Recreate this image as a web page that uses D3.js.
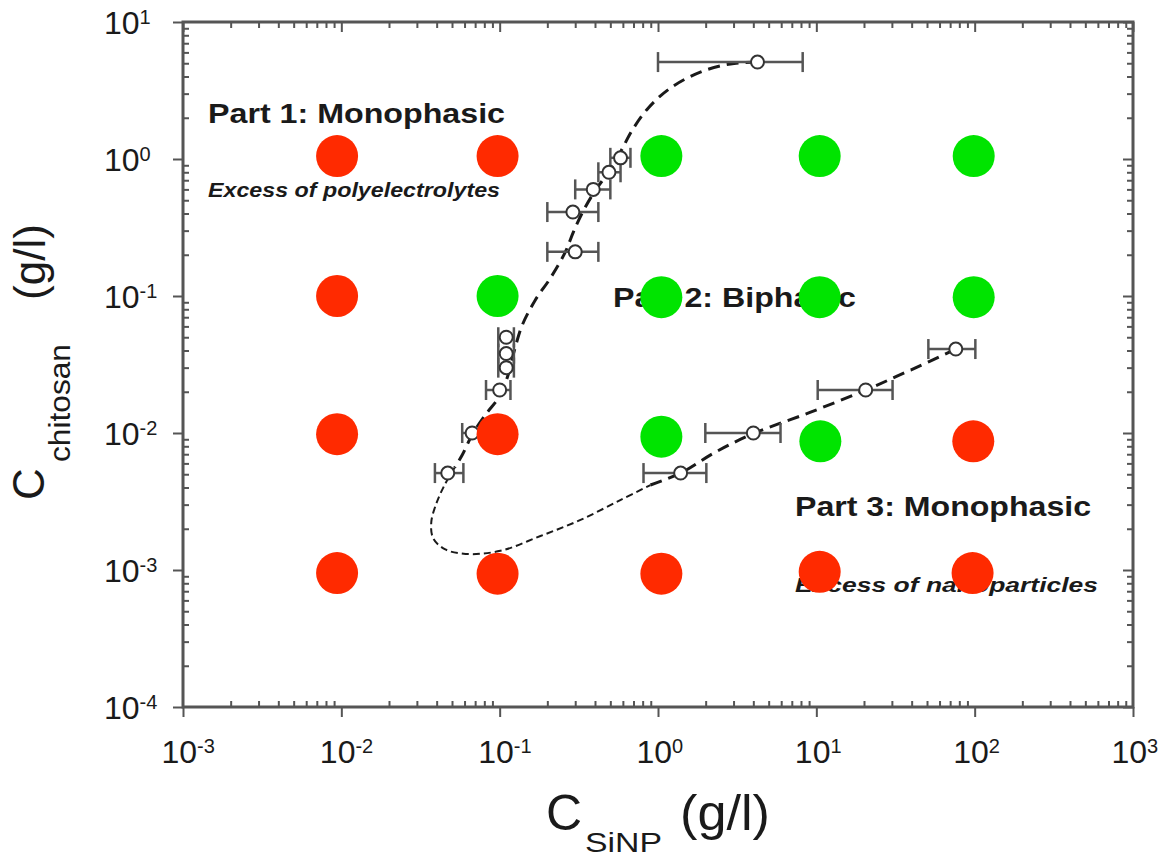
<!DOCTYPE html>
<html>
<head>
<meta charset="utf-8">
<script src="https://d3js.org/d3.v7.min.js"></script>
<style>
body{margin:0;background:#fff;}
svg{display:block;font-family:"Liberation Sans",Arial,sans-serif;}
</style>
</head>
<body>
<svg id="chart" width="1162" height="859"></svg>
<script>
// grid of tested mixtures (coloured dots), row by row from top
var dotSiNP = [0.0094,0.097,1.05,10.5,98.6, 0.0094,0.097,1.05,10.5,98.6, 0.0094,0.097,1.05,10.6,98, 0.0094,0.097,1.05,10.5,97];
var dotChit = [1.05,1.05,1.05,1.05,1.05, 0.1,0.1,0.098,0.098,0.098, 0.0098,0.0098,0.0094,0.0087,0.0087, 0.00095,0.00094,0.00094,0.00097,0.00095];
var dotPhase = ["mono","mono","bi","bi","bi", "mono","bi","bi","bi","bi", "mono","mono","bi","bi","mono", "mono","mono","mono","mono","mono"];

// measured phase boundary with horizontal error bars
var bndSiNP = [0.047,0.067,0.1,0.11,0.11,0.11,0.30,0.29,0.39,0.49,0.58,4.25, 1.39,4.0,20.5,76];
var bndChit = [0.0051,0.010,0.0206,0.030,0.038,0.050,0.21,0.41,0.60,0.80,1.02,5.1, 0.0051,0.010,0.0206,0.041];
var bndLo   = [0.039,0.058,0.082,0.098,0.098,0.098,0.20,0.20,0.30,0.42,0.50,1.0, 0.81,1.99,10.2,51];
var bndHi   = [0.059,0.078,0.117,0.123,0.123,0.123,0.42,0.42,0.50,0.58,0.67,8.2, 2.02,5.94,30.3,101];

// guide-to-the-eye curves
var upperSiNP = [4.25,2.87,1.85,1.20,0.869,0.689,0.578,0.486,0.402,0.338,0.292,0.260,0.209,0.168,0.139,0.124,0.113,0.101,0.081,0.067,0.058,0.052];
var upperChit = [5.1,4.94,4.31,3.30,2.36,1.63,1.12,0.80,0.59,0.42,0.293,0.21,0.135,0.0935,0.0614,0.0403,0.0265,0.0189,0.0135,0.0097,0.0069,0.0056];
var loopSiNP = [0.052,0.045,0.040,0.037,0.038,0.045,0.061,0.101,0.181,0.324,0.578,0.896];
var loopChit = [0.0056,0.0042,0.0031,0.00224,0.00171,0.00142,0.00131,0.00138,0.00177,0.00232,0.00324,0.00417];
var lowerSiNP = [0.896,1.39,2.31,4.0,9.2,20.5,39.4,76];
var lowerChit = [0.00417,0.0051,0.00726,0.0099,0.0142,0.0206,0.0288,0.041];

var xMajor = [1e-3,1e-2,1e-1,1,10,100,1000];
var yMajor = [1e-4,1e-3,1e-2,1e-1,1,10];

var svg = d3.select("#chart");
var axisColor = "#555";
var fontFam = '"Liberation Sans",Arial,sans-serif';
var x = d3.scaleLog().domain([1e-3,1e3]).range([183,1133]);
var y = d3.scaleLog().domain([1e-4,10]).range([707,22]);

function isMajor(d){ var e = Math.log10(d); return Math.abs(e - Math.round(e)) < 1e-6; }
var xMinor = x.ticks().filter(function(d){ return !isMajor(d); });
var yMinor = y.ticks().filter(function(d){ return !isMajor(d); });

function drawAxis(axisFn, scale, vals, size, tr){
  var g = svg.append("g").attr("transform", tr)
    .call(axisFn(scale).tickValues(vals).tickSize(size).tickSizeOuter(0).tickFormat(""));
  g.select(".domain").remove();
  g.selectAll(".tick text").remove();
  g.selectAll("line").attr("stroke", axisColor).attr("stroke-width", 2);
  return g;
}

var gxb = drawAxis(d3.axisBottom, x, xMajor, 10, "translate(0,707)");
drawAxis(d3.axisBottom, x, xMinor, -6, "translate(0,707)");
drawAxis(d3.axisTop, x, xMajor, -10, "translate(0,22)");
drawAxis(d3.axisTop, x, xMinor, -6, "translate(0,22)");
var gyl = drawAxis(d3.axisLeft, y, yMajor, 10, "translate(183,0)");
drawAxis(d3.axisLeft, y, yMinor, -6, "translate(183,0)");
drawAxis(d3.axisRight, y, yMajor, -10, "translate(1133,0)");
drawAxis(d3.axisRight, y, yMinor, -6, "translate(1133,0)");

svg.append("rect").attr("x",183).attr("y",22).attr("width",950).attr("height",685)
  .attr("fill","none").attr("stroke",axisColor).attr("stroke-width",3);

function powLabel(sel, px, py){
  sel.each(function(d){
    var t = d3.select(this).append("text").attr("x",px).attr("y",py)
      .attr("text-anchor","start").attr("font-family",fontFam)
      .attr("font-size",32).attr("fill","#1a1a1a");
    t.append("tspan").text("10");
    t.append("tspan").attr("dy",-10).attr("font-size",20).text(Math.round(Math.log10(d)));
  });
}
powLabel(gxb.selectAll(".tick"), -22, 56);
powLabel(gyl.selectAll(".tick"), -79, 11);

// axis titles
var xt = svg.append("g").attr("fill","#1a1a1a");
xt.append("text").attr("x",546).attr("y",830).attr("font-size",50).text("C");
xt.append("text").attr("x",585).attr("y",852).attr("font-size",27).attr("textLength",77).attr("lengthAdjust","spacingAndGlyphs").text("SiNP");
xt.append("text").attr("x",680).attr("y",830).attr("font-size",50).attr("textLength",90).attr("lengthAdjust","spacingAndGlyphs").text("(g/l)");

var yt = svg.append("g").attr("fill","#1a1a1a").attr("transform","translate(0,500) rotate(-90)");
yt.append("text").attr("x",0).attr("y",44).attr("font-size",44).text("C");
yt.append("text").attr("x",38).attr("y",70).attr("font-size",30).attr("textLength",118).attr("lengthAdjust","spacingAndGlyphs").text("chitosan");
yt.append("text").attr("x",200).attr("y",45).attr("font-size",44).attr("textLength",76).attr("lengthAdjust","spacingAndGlyphs").text("(g/l)");

// region annotations
var notes = [
  {t:"Part 1: Monophasic", x:208, y:123, s:28, it:false, w:297},
  {t:"Excess of polyelectrolytes", x:208, y:197, s:20, it:true, w:292},
  {t:"Part 2: Biphasic", x:613, y:307, s:28, it:false, w:243},
  {t:"Part 3: Monophasic", x:795, y:516, s:28, it:false, w:296},
  {t:"Excess of nanoparticles", x:795, y:592, s:20, it:true, w:303}
];
svg.append("g").selectAll("text").data(notes).enter().append("text")
  .attr("x", function(d){ return d.x; }).attr("y", function(d){ return d.y; })
  .attr("font-size", function(d){ return d.s; })
  .attr("font-weight","bold")
  .attr("font-style", function(d){ return d.it ? "italic" : "normal"; })
  .attr("textLength", function(d){ return d.w; }).attr("lengthAdjust","spacingAndGlyphs")
  .attr("fill","#1a1a1a")
  .text(function(d){ return d.t; });

// dashed curves
var line = d3.line().x(function(d){ return x(d[0]); }).y(function(d){ return y(d[1]); })
  .curve(d3.curveCatmullRom.alpha(0.5));
function curve(xs, ys, w, dash){
  svg.append("path").attr("d", line(d3.zip(xs, ys)))
    .attr("fill","none").attr("stroke","#1a1a1a").attr("stroke-width",w).attr("stroke-dasharray",dash);
}
curve(upperSiNP, upperChit, 3, "12,7");
curve(loopSiNP, loopChit, 2, "7,4");
curve(lowerSiNP, lowerChit, 3, "12,7");

// error bars and open circles
var pts = d3.range(bndSiNP.length);
var eb = svg.append("g").attr("stroke","#555").attr("stroke-width",2.5);
eb.selectAll("line.bar").data(pts).enter().append("line")
  .attr("x1", function(i){ return x(bndLo[i]); }).attr("x2", function(i){ return x(bndHi[i]); })
  .attr("y1", function(i){ return y(bndChit[i]); }).attr("y2", function(i){ return y(bndChit[i]); });
[bndLo, bndHi].forEach(function(arr){
  eb.selectAll(null).data(pts).enter().append("line")
    .attr("x1", function(i){ return x(arr[i]); }).attr("x2", function(i){ return x(arr[i]); })
    .attr("y1", function(i){ return y(bndChit[i]) - 10; }).attr("y2", function(i){ return y(bndChit[i]) + 10; });
});
svg.append("g").selectAll("circle").data(pts).enter().append("circle")
  .attr("cx", function(i){ return x(bndSiNP[i]); }).attr("cy", function(i){ return y(bndChit[i]); })
  .attr("r",6.5).attr("fill","#fff").attr("stroke","#333").attr("stroke-width",2);

// coloured phase dots
var color = {mono:"#ff2a00", bi:"#00e400"};
svg.append("g").selectAll("circle").data(d3.range(dotSiNP.length)).enter().append("circle")
  .attr("cx", function(i){ return x(dotSiNP[i]); }).attr("cy", function(i){ return y(dotChit[i]); })
  .attr("r",21).attr("fill", function(i){ return color[dotPhase[i]]; });
</script>
</body>
</html>
